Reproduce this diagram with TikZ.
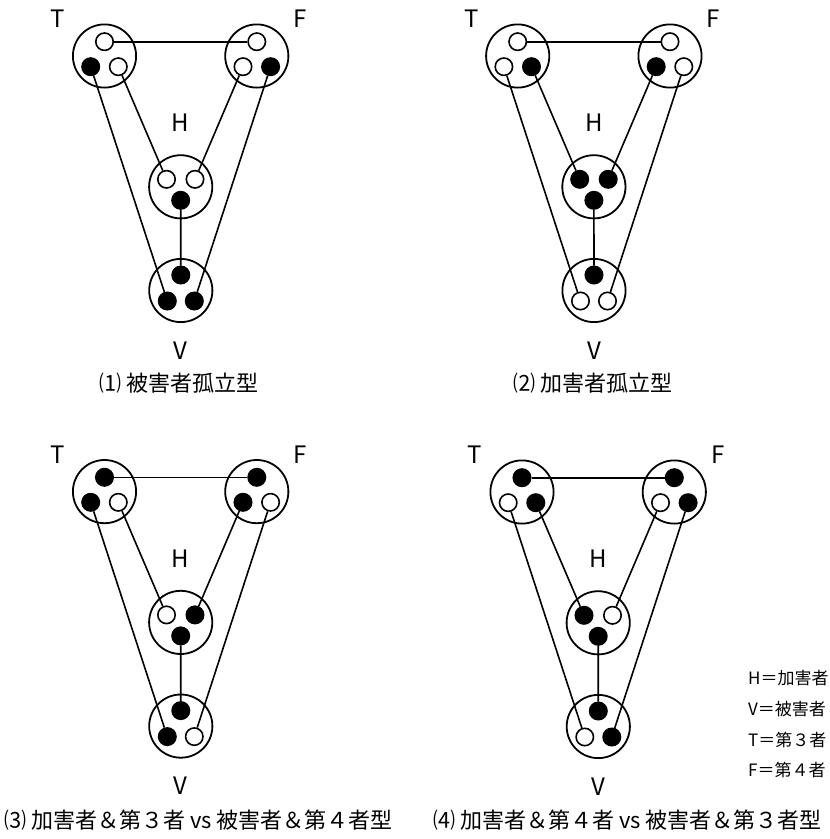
\documentclass[tikz,border=0pt]{standalone}
\usepackage{fontspec}
\setmainfont{Noto Sans CJK JP}
\begin{document}
\begin{tikzpicture}[x=1pt,y=-1pt,
  big/.style={circle, draw, line width=1.8pt, minimum size=63.2pt, inner sep=0pt},
  wh/.style={circle, draw, fill=white, line width=1.6pt, minimum size=17.4pt, inner sep=0pt},
  bk/.style={wh, fill=black},
  conn/.style={line width=1.6pt},
  lab/.style={font=\fontsize{24}{24}\selectfont, inner sep=0pt},
  captext/.style={font=\fontsize{22}{22}\selectfont, inner sep=0pt},
  leg/.style={font=\fontsize{17}{17}\selectfont, inner sep=0pt, anchor=west}]
\useasboundingbox (0,0) rectangle (830,839);

% ---------- diagram 1 ----------
\begin{scope}[shift={(104.5,56)}, name prefix=a-]
  \node[big] (T) at (0,0) {};
  \node[big] (F) at (152.3,0) {};
  \node[big] (H) at (76.2,130.8) {};
  \node[big] (V) at (76.3,234.5) {};
  \node[wh] (Tt) at (0,-14.3) {};
  \node[bk] (Tl) at (-13.8,10.7) {};
  \node[wh] (Tr) at (13.8,10.7) {};
  \node[wh] (Ft) at (152.3,-14.3) {};
  \node[wh] (Fl) at (138.5,10.7) {};
  \node[bk] (Fr) at (166.1,10.7) {};
  \node[wh] (Hl) at (62,123.3) {};
  \node[wh] (Hr) at (90.5,123.3) {};
  \node[bk] (Hb) at (76.2,144.3) {};
  \node[bk] (Vt) at (76.3,219) {};
  \node[bk] (Vl) at (62.8,245) {};
  \node[bk] (Vr) at (89.8,245) {};
  \draw[conn] (Tt) -- (Ft);
  \draw[conn] (Tl) -- (Vl);
  \draw[conn] (Tr) -- (Hl);
  \draw[conn] (Fl) -- (Hr);
  \draw[conn] (Fr) -- (Vr);
  \draw[conn] (Hb) -- (Vt);
  \node[lab] (Tlab) at (-47,-37) {T};
  \node[lab] (Flab) at (195.8,-37) {F};
  \node[lab] (Hlab) at (76.2,67) {H};
  \node[lab] (Vlab) at (76.3,294.5) {V};
\end{scope}

% ---------- diagram 2 ----------
\begin{scope}[shift={(517.7,56)}, name prefix=b-]
  \node[big] (T) at (0,0) {};
  \node[big] (F) at (152.3,0) {};
  \node[big] (H) at (76.2,130.8) {};
  \node[big] (V) at (76.3,234.5) {};
  \node[wh] (Tt) at (0,-14.3) {};
  \node[wh] (Tl) at (-13.8,10.7) {};
  \node[bk] (Tr) at (13.8,10.7) {};
  \node[wh] (Ft) at (152.3,-14.3) {};
  \node[bk] (Fl) at (138.5,10.7) {};
  \node[wh] (Fr) at (166.1,10.7) {};
  \node[bk] (Hl) at (62,123.3) {};
  \node[bk] (Hr) at (90.5,123.3) {};
  \node[bk] (Hb) at (76.2,144.3) {};
  \node[bk] (Vt) at (76.3,219) {};
  \node[wh] (Vl) at (62.8,245) {};
  \node[wh] (Vr) at (89.8,245) {};
  \draw[conn] (Tt) -- (Ft);
  \draw[conn] (Tl) -- (Vl);
  \draw[conn] (Tr) -- (Hl);
  \draw[conn] (Fl) -- (Hr);
  \draw[conn] (Fr) -- (Vr);
  \draw[conn] (Hb) -- (Vt);
  \node[lab] (Tlab) at (-46,-37) {T};
  \node[lab] (Flab) at (195.8,-37) {F};
  \node[lab] (Hlab) at (76.2,67) {H};
  \node[lab] (Vlab) at (76.3,294.5) {V};
\end{scope}

% ---------- diagram 3 ----------
\begin{scope}[shift={(104.5,491.6)}, name prefix=c-]
  \node[big] (T) at (0,0) {};
  \node[big] (F) at (152.3,0) {};
  \node[big] (H) at (76.2,130.8) {};
  \node[big] (V) at (76.3,234.5) {};
  \node[bk] (Tt) at (0,-14.3) {};
  \node[bk] (Tl) at (-13.8,10.7) {};
  \node[wh] (Tr) at (13.8,10.7) {};
  \node[bk] (Ft) at (152.3,-14.3) {};
  \node[bk] (Fl) at (138.5,10.7) {};
  \node[wh] (Fr) at (166.1,10.7) {};
  \node[wh] (Hl) at (62,123.3) {};
  \node[bk] (Hr) at (90.5,123.3) {};
  \node[bk] (Hb) at (76.2,144.3) {};
  \node[bk] (Vt) at (76.3,219) {};
  \node[bk] (Vl) at (62.8,245) {};
  \node[wh] (Vr) at (89.8,245) {};
  \draw[conn] (Tt) -- (Ft);
  \draw[conn] (Tl) -- (Vl);
  \draw[conn] (Tr) -- (Hl);
  \draw[conn] (Fl) -- (Hr);
  \draw[conn] (Fr) -- (Vr);
  \draw[conn] (Hb) -- (Vt);
  \node[lab] (Tlab) at (-47,-37) {T};
  \node[lab] (Flab) at (195.8,-37) {F};
  \node[lab] (Hlab) at (76.2,67) {H};
  \node[lab] (Vlab) at (76.3,294.5) {V};
\end{scope}

% ---------- diagram 4 ----------
\begin{scope}[shift={(522,492)}, name prefix=d-]
  \node[big] (T) at (0,0) {};
  \node[big] (F) at (152.3,0) {};
  \node[big] (H) at (76.2,130.8) {};
  \node[big] (V) at (76.3,234.5) {};
  \node[bk] (Tt) at (0,-14.3) {};
  \node[wh] (Tl) at (-13.8,10.7) {};
  \node[bk] (Tr) at (13.8,10.7) {};
  \node[bk] (Ft) at (152.3,-14.3) {};
  \node[wh] (Fl) at (138.5,10.7) {};
  \node[bk] (Fr) at (166.1,10.7) {};
  \node[bk] (Hl) at (62,123.3) {};
  \node[wh] (Hr) at (90.5,123.3) {};
  \node[bk] (Hb) at (76.2,144.3) {};
  \node[bk] (Vt) at (76.3,219) {};
  \node[wh] (Vl) at (62.8,245) {};
  \node[bk] (Vr) at (89.8,245) {};
  \draw[conn] (Tt) -- (Ft);
  \draw[conn] (Tl) -- (Vl);
  \draw[conn] (Tr) -- (Hl);
  \draw[conn] (Fl) -- (Hr);
  \draw[conn] (Fr) -- (Vr);
  \draw[conn] (Hb) -- (Vt);
  \node[lab] (Tlab) at (-47,-37) {T};
  \node[lab] (Flab) at (195.8,-37) {F};
  \node[lab] (Hlab) at (76.2,67) {H};
  \node[lab] (Vlab) at (76.3,294.5) {V};
\end{scope}

% ---------- captions ----------
\node[captext] (cap1) at (179,383) {⑴ 被害者孤立型};
\node[captext] (cap2) at (593,383) {⑵ 加害者孤立型};
\node[captext, anchor=west] (cap3) at (4,820) {⑶ 加害者＆第３者 vs 被害者＆第４者型};
\node[captext, anchor=west] (cap4) at (433,820) {⑷ 加害者＆第４者 vs 被害者＆第３者型};

% ---------- legend ----------
\node[leg] (legH) at (748,678) {H＝加害者};
\node[leg] (legV) at (748,709) {V＝被害者};
\node[leg] (legT) at (748,740) {T＝第３者};
\node[leg] (legF) at (748,770) {F＝第４者};
\end{tikzpicture}
\end{document}
